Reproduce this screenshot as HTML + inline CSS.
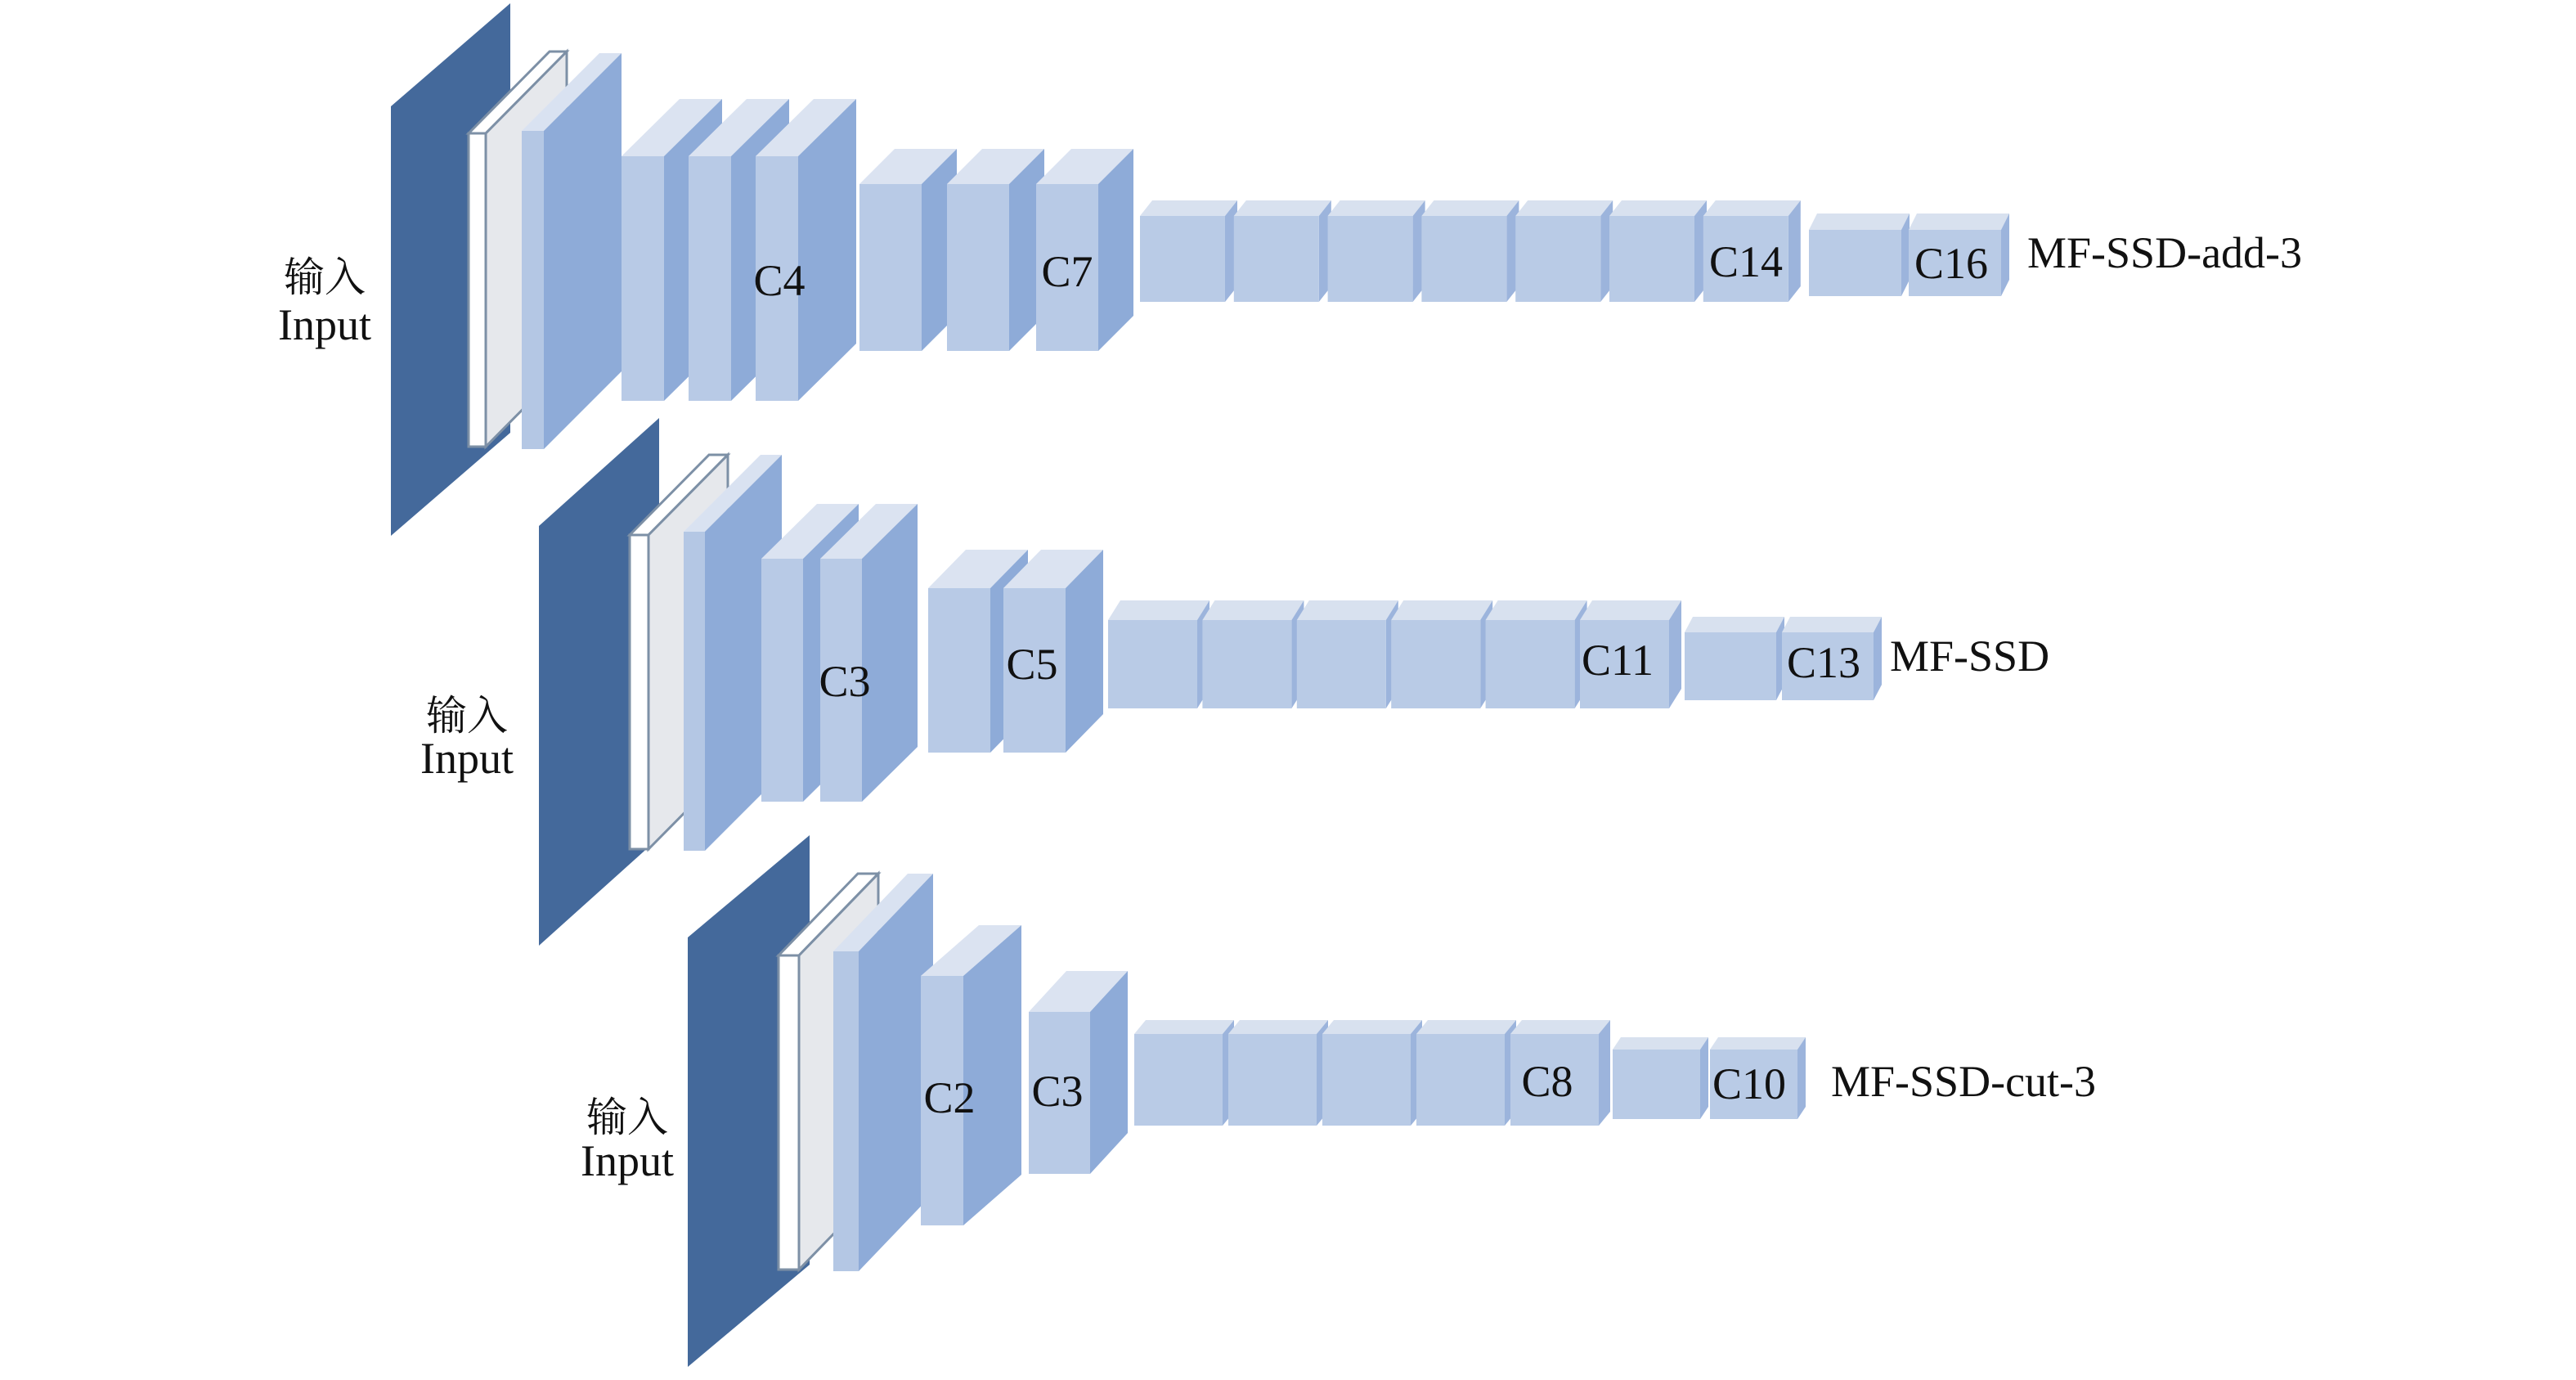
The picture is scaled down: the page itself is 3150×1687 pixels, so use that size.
<!DOCTYPE html>
<html><head><meta charset="utf-8"><style>
html,body{margin:0;padding:0;background:#fff;}
svg{display:block;}
text{font-family:"Liberation Serif","Noto Serif CJK SC",serif;fill:#111;}
.l{font-size:54px;dominant-baseline:central;text-anchor:middle;}
.m{font-size:54px;dominant-baseline:central;}
.cn{font-size:50px;text-anchor:middle;font-family:"Liberation Serif","Noto Serif CJK SC",serif;}
.in{font-size:54px;text-anchor:middle;}
</style></head><body>
<svg id="s" width="3150" height="1687" viewBox="0 0 3150 1687" xmlns="http://www.w3.org/2000/svg">
<g id="g"></g>
<text class="cn" x="397" y="356">输入</text><text class="in" x="397" y="415">Input</text>
<text class="cn" x="571" y="892">输入</text><text class="in" x="571" y="945">Input</text>
<text class="cn" x="767" y="1383">输入</text><text class="in" x="767" y="1437">Input</text>
<text class="l" x="953" y="343">C4</text>
<text class="l" x="1305" y="332">C7</text>
<text class="l" x="2135" y="320">C14</text>
<text class="l" x="2386" y="322">C16</text>
<text class="m" x="2479" y="309">MF-SSD-add-3</text>
<text class="l" x="1033" y="833">C3</text>
<text class="l" x="1262" y="812">C5</text>
<text class="l" x="1978" y="807">C11</text>
<text class="l" x="2230" y="810">C13</text>
<text class="m" x="2311" y="802">MF-SSD</text>
<text class="l" x="1161" y="1342">C2</text>
<text class="l" x="1293" y="1334">C3</text>
<text class="l" x="1892" y="1322">C8</text>
<text class="l" x="2139" y="1325">C10</text>
<text class="m" x="2239" y="1322">MF-SSD-cut-3</text>
</svg>
<script>
var g=document.getElementById('g');var h='';
function P(pts,f,st){h+='<polygon points="'+pts.map(function(p){return p.join(',')}).join(' ')+'" fill="'+f+'"'+(st?' stroke="'+st+'" stroke-width="3"':'')+'/>';}
function box(x,y,w,hh,dx,dy,c){
 c=c||['#b8cae6','#dbe3f1','#8eabd8'];
 P([[x,y],[x+dx,y-dy],[x+w+dx,y-dy],[x+w,y]],c[1],c[3]);
 P([[x+w,y],[x+w+dx,y-dy],[x+w+dx,y+hh-dy],[x+w,y+hh]],c[2],c[3]);
 P([[x,y],[x+w,y],[x+w,y+hh],[x,y+hh]],c[0],c[3]);
}
var W=['#ffffff','#ffffff','#e6e8ec','#7d90a6'];
var L=['#b4c7e4','#d9e2f1','#8eabd8'];
var S=['#b9cbe6','#d8e1ef','#9cb4dc'];
function row(d,wb,lp,cb,c2,sm,sm2){
 P(d,'#44699b');
 box(wb[0],wb[1],wb[2],wb[3],wb[4],wb[5],W);
 box(lp[0],lp[1],lp[2],lp[3],lp[4],lp[5],L);
 cb[0].forEach(function(x){box(x,cb[1],cb[2],cb[3],cb[4],cb[5]);});
 c2[0].forEach(function(x){box(x,c2[1],c2[2],c2[3],c2[4],c2[5]);});
 for(var i=0;i<sm[1];i++)box(sm[0]+i*sm[2],sm[3],sm[4],sm[5],sm[6],sm[7],S);
 sm2[0].forEach(function(x){box(x,sm2[1],sm2[2],sm2[3],sm2[4],sm2[5],S);});
}
row([[478,130],[624,4],[624,529],[478,655]],[573,163,21,383,99,100],[638,160,27,389,95,95],
 [[760,842,924],191,52,299,71,70],[[1051,1158,1267],225,76,204,43,43],
 [1394,7,114.8,264,104,105,15,19],[[2212,2334],281,113,81,10,20]);
row([[659,643],[806,511],[806,1024],[659,1156]],[770,654,23,384,97,98],[836,650,26,390,94,94],
 [[931,1003],683,51,297,68,67],[[1135,1227],719,76,201,46,47],
 [1355,6,115.4,758,109,108,15,24],[[2060,2179],773,112,83,10,19]);
row([[841,1146],[990,1021],[990,1546],[841,1671]],[952,1168,25,384,97,100],[1019,1163,31,391,91,95],
 [[1126],1193,52,305,71,62],[[1258],1237,75,198,46,50],
 [1387,5,115,1264,108,112,14,17],[[1972,2091],1283,107,85,10,15]);
g.innerHTML=h;
</script>
</body></html>
